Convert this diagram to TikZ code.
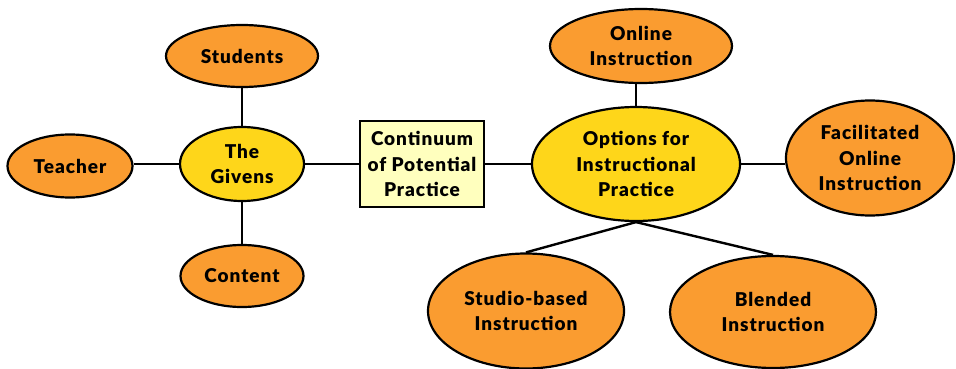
\documentclass[tikz,border=0pt]{standalone}
\usepackage{fontspec}
\setmainfont{Lato}[BoldFont={Lato Black}, BoldFeatures={LetterSpace=5}]
\usetikzlibrary{shapes.geometric}
\definecolor{orangefill}{RGB}{250,156,48}
\definecolor{yellowfill}{RGB}{254,214,26}
\definecolor{boxfill}{RGB}{255,255,190}
\tikzset{
  lbl/.style={font=\fontsize{19}{25.5}\selectfont\bfseries, align=center, text=black},
  oval/.style={ellipse, draw=black, line width=2.2pt, inner sep=0pt, lbl},
  outer/.style={oval, fill=orangefill},
  hub/.style={oval, fill=yellowfill},
  cbox/.style={rectangle, draw=black, line width=2.2pt, fill=boxfill, inner sep=0pt, lbl},
  link/.style={draw=black, line width=2.4pt}
}
\begin{document}
\begin{tikzpicture}[x=1pt, y=-1pt]
\useasboundingbox (0,0) rectangle (956,369);
\node[hub, minimum width=124pt, minimum height=74pt] (giv) at (242,164) {The\\Givens};
\node[outer, minimum width=152pt, minimum height=62pt] (stu) at (242,56) {Students};
\node[outer, minimum width=125pt, minimum height=63pt] (tea) at (70,166) {Teacher};
\node[outer, minimum width=123pt, minimum height=62pt] (con) at (242,276) {Content};
\node[cbox, minimum width=124pt, minimum height=86pt] (cont) at (422,164) {Continuum\\of Potential\\Practice};
\node[hub, minimum width=208pt, minimum height=114pt] (opt) at (636,164) {Options for\\Instructional\\Practice};
\node[outer, minimum width=182pt, minimum height=74pt] (onl) at (641,46) {Online\\Instruction};
\node[outer, minimum width=168pt, minimum height=115pt] (fac) at (870,158) {Facilitated\\Online\\Instruction};
\node[outer, minimum width=196pt, minimum height=115pt] (stud) at (526,311) {Studio-based\\Instruction};
\node[outer, minimum width=206pt, minimum height=112pt] (ble) at (773,312) {Blended\\Instruction};
\path[link] (giv) -- (stu);
\path[link] (giv) -- (con);
\path[link] (giv.west) -- (giv.west -| tea.east);
\path[link] (giv) -- (cont);
\path[link] (cont) -- (opt);
\path[link] (opt.north) -- (opt.north |- onl.south);
\path[link] (opt.east) -- (opt.east -| fac.west);
\path[link] (opt.south) -- (stud.north);
\path[link] (opt.south) -- (ble.north);
\end{tikzpicture}
\end{document}
